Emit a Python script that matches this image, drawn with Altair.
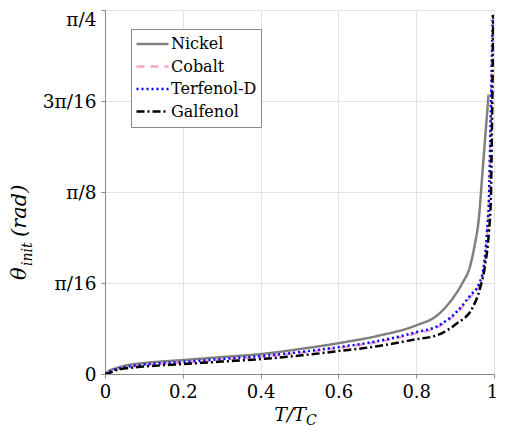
import math
import altair as alt
import pandas as pd

# ---- data ----
materials = ["Nickel", "Cobalt", "Terfenol-D", "Galfenol"]
colors = ["#808080", "#f4a6c8", "#0000ff", "#000000"]
dashes = [[1, 0], [8, 6], [2, 3], [8, 3, 2, 3]]

t_nickel = [0, 0.01, 0.03, 0.06, 0.1, 0.2, 0.3, 0.4, 0.5, 0.6, 0.7, 0.8,
            0.854, 0.888, 0.918, 0.939, 0.951, 0.961, 0.970, 0.978, 0.986]
th_nickel = [0, 0.0064, 0.0129, 0.0193, 0.0236, 0.030, 0.0365, 0.0429, 0.0537,
             0.0665, 0.082, 0.105, 0.1266, 0.1567, 0.1953, 0.234, 0.281, 0.335,
             0.431, 0.517, 0.603]

t_terf = [0, 0.01, 0.03, 0.06, 0.1, 0.2, 0.3, 0.4, 0.5, 0.6, 0.7, 0.8,
          0.854, 0.905, 0.939, 0.962, 0.974, 0.982, 0.987, 0.991, 0.994, 0.997]
th_terf = [0, 0.0043, 0.0107, 0.0161, 0.0204, 0.0258, 0.0322, 0.0386, 0.0472,
           0.058, 0.0708, 0.0901, 0.103, 0.135, 0.1695, 0.1953, 0.234, 0.307,
           0.378, 0.528, 0.657, 0.781]

t_cobalt = t_terf
th_cobalt = [0, 0.0036, 0.0097, 0.0148, 0.019, 0.0243, 0.0306, 0.037, 0.0455,
             0.056, 0.0688, 0.0878, 0.1005, 0.132, 0.166, 0.191, 0.229, 0.300,
             0.370, 0.515, 0.645, 0.775]

t_galf = [0, 0.01, 0.03, 0.06, 0.1, 0.2, 0.3, 0.4, 0.5, 0.6, 0.7, 0.8,
          0.854, 0.905, 0.944, 0.964, 0.977, 0.987, 0.992, 0.995, 0.997, 0.9985]
th_galf = [0, 0.0021, 0.0086, 0.0129, 0.0161, 0.0215, 0.0268, 0.0322, 0.0397,
           0.0494, 0.060, 0.0751, 0.0837, 0.1094, 0.1416, 0.1846, 0.234, 0.307,
           0.378, 0.549, 0.678, 0.775]

x_ticks = [0, 0.2, 0.4, 0.6, 0.8, 1]
PI = math.pi
y_ticks = [0, PI / 16, PI / 8, 3 * PI / 16, PI / 4]
y_labels = ["0", "π/16", "π/8", "3π/16", "π/4"]

rows = []
for order, (name, ts, ths) in enumerate([
        ("Nickel", t_nickel, th_nickel),
        ("Cobalt", t_cobalt, th_cobalt),
        ("Terfenol-D", t_terf, th_terf),
        ("Galfenol", t_galf, th_galf)]):
    for t, th in zip(ts, ths):
        rows.append({"material": name, "t": t, "theta": th, "k": order})
df = pd.DataFrame(rows)

label_expr = "[" + ",".join("'%s'" % s for s in y_labels) + "][round(datum.value*16/PI)]"

SERIF = "DejaVu Serif"

lines = alt.Chart(df).mark_line(strokeWidth=2.5, clip=True, interpolate="monotone").encode(
    x=alt.X("t:Q", scale=alt.Scale(domain=[0, 1], nice=False),
            axis=alt.Axis(values=x_ticks, format="~g", title=None,
                          labelFont=SERIF, labelFontSize=18, labelColor="#000",
                          labelPadding=5, tickSize=4, tickColor="#888",
                          domainColor="#888", gridColor="#e3e3e3",
                          labelFlush=False,
                          labelOffset={"condition": {"test": "datum.value > 0.99", "value": -2},
                                       "value": 0})),
    y=alt.Y("theta:Q", scale=alt.Scale(domain=[0, PI / 4], nice=False),
            axis=alt.Axis(values=y_ticks, labelExpr=label_expr, title=None,
                          labelFont=SERIF, labelFontSize=18.5, labelColor="#000",
                          labelPadding=5, tickSize=4, tickColor="#888",
                          domainColor="#888", gridColor="#e3e3e3",
                          labelFlush=False,
                          labelBaseline={"condition": {"test": "datum.value > 0.7", "value": "top"},
                                         "value": "middle"},
                          labelOffset={"condition": {"test": "datum.value > 0.7", "value": 0},
                                       "value": 0})),
    color=alt.Color("material:N",
                    scale=alt.Scale(domain=materials, range=colors),
                    legend=alt.Legend(orient="none", legendX=26, legendY=19,
                                      title=None, symbolType="stroke",
                                      symbolSize=1024, symbolStrokeWidth=2.5,
                                      clipHeight=22, rowPadding=0.5,
                                      labelFont=SERIF, labelFontSize=16,
                                      labelColor="#000", labelOffset=1,
                                      padding=4, fillColor="white",
                                      strokeColor="#888", labelLimit=300)),
    strokeDash=alt.StrokeDash("material:N",
                              scale=alt.Scale(domain=materials, range=dashes),
                              legend=alt.Legend(orient="none", legendX=26, legendY=19,
                                                title=None)),
    order="k:Q",
    detail="material:N",
)

one = pd.DataFrame({"a": [0]})


def txt(s, x, y, size, angle=0, italic=True, align="left"):
    return alt.Chart(one).mark_text(
        text=s, font=SERIF, fontSize=size, fontStyle="italic" if italic else "normal",
        align=align, baseline="alphabetic", angle=angle, color="#000"
    ).encode(x=alt.value(x), y=alt.value(y))


titles = [
    txt("T/T", 201, 411, 19, align="right"),
    txt("C", 201, 415, 14),
    txt("θ", -79, 270, 21, angle=270),
    txt("init", -73, 256, 14, angle=270),
    txt("(rad)", -79, 227, 21, angle=270),
]

chart = alt.layer(lines, *titles).properties(
    width=389, height=364,
    autosize=alt.AutoSizeParams(type="none"),
    padding={"left": 97, "top": 2, "right": 3, "bottom": 54},
).configure_view(stroke="#888", strokeWidth=1).configure_axis(
    gridWidth=1, domainWidth=1
)

chart.save("out.html", embed_options={"renderer": "svg", "actions": False})
